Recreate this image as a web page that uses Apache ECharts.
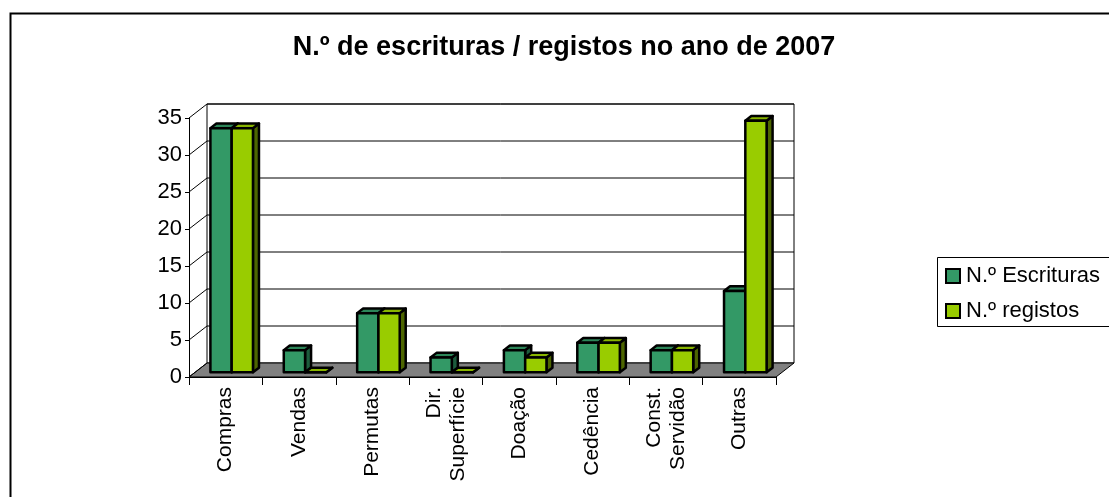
<!DOCTYPE html>
<html>
<head>
<meta charset="utf-8">
<title>N.º de escrituras / registos</title>
<script src="https://cdn.jsdelivr.net/npm/echarts@6/dist/echarts.min.js"></script>
<style>
  html, body { margin: 0; padding: 0; background: #fff; }
  #main { width: 1109px; height: 497px; }
</style>
</head>
<body>
<div id="main"></div>
<script>
// dados
var categorias = ['Compras', 'Vendas', 'Permutas', 'Dir.\nSuperfície', 'Doação', 'Cedência', 'Const.\nServidão', 'Outras'];
var escrituras = [33, 3, 8, 2, 3, 4, 3, 11];
var registos = [33, 0, 8, 0, 2, 4, 3, 34];
var yTicks = [0, 5, 10, 15, 20, 25, 30, 35];

// profundidade da "caixa" 3D (px)
var DX = 18, DY = -14;
var FONT = 'Liberation Sans, Arial, sans-serif';

var cores = {
    esc: { front: '#339966', top: '#2c8558', side: '#1d5c3d' },
    reg: { front: '#99cc00', top: '#88b400', side: '#4d6600' }
};

function toPairs(arr) {
    var out = [];
    for (var i = 0; i < arr.length; i++) out.push([i, arr[i]]);
    return out;
}

// paredes, chão e linhas de grelha
function renderWalls(params, api) {
    var cs = params.coordSys;
    var x0 = cs.x, x1 = cs.x + cs.width;
    var yb = api.coord([0, 0])[1];
    var yt = api.coord([0, yTicks[yTicks.length - 1]])[1];
    var y = api.coord([0, api.value(1)])[1];
    var line = { stroke: '#000', lineWidth: 1 };
    var children = [];
    if (params.dataIndex === 0) {
        children.push({
            type: 'rect',
            shape: { x: x0 + DX, y: yt + DY, width: x1 - x0, height: yb - yt },
            style: { fill: '#fff', stroke: '#000', lineWidth: 1 }
        });
        children.push({
            type: 'polygon',
            shape: { points: [[x0, yb], [x1, yb], [x1 + DX, yb + DY], [x0 + DX, yb + DY]] },
            style: { fill: '#808080', stroke: '#000', lineWidth: 1 }
        });
    } else {
        children.push({
            type: 'line',
            shape: { x1: x0 + DX, y1: y + DY, x2: x1 + DX, y2: y + DY },
            style: line
        });
    }
    children.push({
        type: 'line',
        shape: { x1: x0, y1: y, x2: x0 + DX, y2: y + DY },
        style: line
    });
    return { type: 'group', children: children };
}

function makeBarRenderer(which) {
    var c = cores[which];
    return function (params, api) {
        var idx = api.value(0);
        var base = api.coord([idx, 0]);
        var top = api.coord([idx, api.value(1)]);
        var band = api.size([1, 0])[0];
        var w = band * 0.29;
        var fdx = DX / 3, fdy = DY / 3;
        var xl = (which === 'esc' ? base[0] - w : base[0]) + fdx;
        var yB = base[1] + fdy, yT = top[1] + fdy;
        var st = { stroke: '#000', lineWidth: 2.5, lineJoin: 'round' };
        return {
            type: 'group',
            children: [
                {
                    type: 'polygon',
                    shape: { points: [[xl + w, yT], [xl + w, yB], [xl + w + fdx, yB + fdy], [xl + w + fdx, yT + fdy]] },
                    style: Object.assign({ fill: c.side }, st)
                },
                {
                    type: 'polygon',
                    shape: { points: [[xl, yT], [xl + w, yT], [xl + w + fdx, yT + fdy], [xl + fdx, yT + fdy]] },
                    style: Object.assign({ fill: c.top }, st)
                },
                {
                    type: 'rect',
                    shape: { x: xl, y: yT, width: w, height: yB - yT },
                    style: Object.assign({ fill: c.front }, st)
                }
            ]
        };
    };
}

var myChart = echarts.init(document.getElementById('main'));

var option = {
    animation: false,
    backgroundColor: '#fff',
    title: {
        text: 'N.º de escrituras / registos no ano de 2007',
        left: 559,
        top: 29,
        textAlign: 'center',
        textStyle: { fontFamily: FONT, fontSize: 27, fontWeight: 'bold', color: '#000' }
    },
    graphic: [
        {
            type: 'rect', left: 8, top: 11, silent: true,
            shape: { width: 1200, height: 600 },
            style: { fill: 'none', stroke: '#000', lineWidth: 2 }
        },
        {
            type: 'rect', left: 937, top: 257, silent: true,
            shape: { width: 200, height: 69 },
            style: { fill: '#fff', stroke: '#000', lineWidth: 1 }
        }
    ],
    legend: {
        data: ['N.º Escrituras', 'N.º registos'],
        orient: 'vertical',
        left: 940,
        top: 265,
        padding: [0, 0, 0, 5],
        icon: 'rect',
        itemWidth: 14,
        itemHeight: 14,
        itemGap: 13,
        selectedMode: false,
        itemStyle: { borderColor: '#000', borderWidth: 2 },
        textStyle: { fontFamily: FONT, fontSize: 22, color: '#000', padding: [0, 0, 0, 1] }
    },
    grid: { left: 189, top: 118, width: 587, height: 259 },
    xAxis: {
        type: 'category',
        data: categorias,
        boundaryGap: true,
        axisLine: { show: true, lineStyle: { color: '#000', width: 1 } },
        axisTick: { show: true, length: 8, lineStyle: { color: '#000' } },
        axisLabel: {
            rotate: 90, margin: 10, interval: 0,
            fontFamily: FONT, fontSize: 21, lineHeight: 24, color: '#000'
        },
        splitLine: { show: false }
    },
    yAxis: {
        type: 'value',
        min: 0, max: 35, interval: 5,
        axisLine: { show: true, lineStyle: { color: '#000', width: 1 } },
        axisTick: { show: true, length: 4, lineStyle: { color: '#000' } },
        axisLabel: { margin: 7, fontFamily: FONT, fontSize: 22, color: '#000' },
        splitLine: { show: false }
    },
    series: [
        {
            type: 'custom',
            name: 'paredes',
            z: 1,
            silent: true,
            renderItem: renderWalls,
            encode: { x: 0, y: 1 },
            data: toPairs(yTicks).map(function (p) { return [0, p[1]]; })
        },
        {
            type: 'custom',
            name: 'N.º Escrituras',
            z: 3,
            itemStyle: { color: cores.esc.front },
            renderItem: makeBarRenderer('esc'),
            encode: { x: 0, y: 1 },
            data: toPairs(escrituras)
        },
        {
            type: 'custom',
            name: 'N.º registos',
            z: 3,
            itemStyle: { color: cores.reg.front },
            renderItem: makeBarRenderer('reg'),
            encode: { x: 0, y: 1 },
            data: toPairs(registos)
        }
    ]
};

myChart.setOption(option, true);
</script>
</body>
</html>
